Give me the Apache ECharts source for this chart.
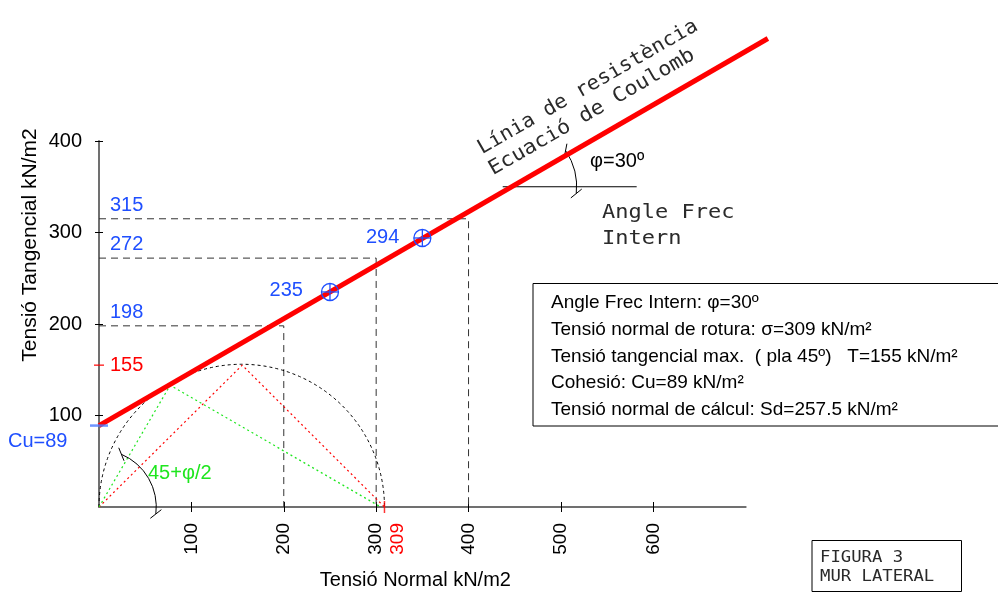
<!DOCTYPE html>
<html><head><meta charset="utf-8">
<script src="https://cdn.jsdelivr.net/npm/echarts@6/dist/echarts.min.js"></script>
<style>html,body{margin:0;padding:0;background:#fff}#c{width:998px;height:595px}</style>
</head><body><div id="c"></div>
<script>
// ---------- data ----------
const xTicks = [100, 200, 300, 400, 500, 600];
const yTicks = [100, 200, 300, 400];
const coulombLine = [[0, 89], [724, 512]];
const refLevels = [315, 272, 198];
const refX = [400, 300, 200];
const testPointsX = [250, 350];
const testPointsY = [235, 294];
const testLabels = ['235', '294'];
const mohrCenter = 154.5;
const mohrRadius = 154.5;
const maxShearTri = [[0, 0], [155, 155], [309, 0]];
const planeTri = [[0, 0], [77, 133], [305, 0]];
const cohesion = 89;
const maxShear = 155;
const ruptureStress = 309;
const phiRefLine = [[437, 350], [582, 350]];
const infoLines = [
  'Angle Frec Intern: φ=30º',
  'Tensió normal de rotura: σ=309 kN/m²',
  'Tensió tangencial max.  ( pla 45º)   T=155 kN/m²',
  'Cohesió: Cu=89 kN/m²',
  'Tensió normal de cálcul: Sd=257.5 kN/m²'
];

// ---------- styles ----------
const FONT = '"Liberation Sans", Arial, sans-serif';
const CAD = '"DejaVu Sans Mono", monospace';
const BLUE = '#1f4fff', RED = '#ff0000', GREEN = '#1ee61e';
const AXIS = '#707070';
const CADCOLOR = '#2a2a2a';

const chart = echarts.init(document.getElementById('c'));

// angle annotations: [cx, cy, r(data), startDeg, endDeg]
const angleArcs = [[447, 350, 70, 34, -6], [0, 0, 62, 67, -7]];
const testLabelGap = [27, 23];

const refSeries = refLevels.map((v, i) => ({
  type: 'line', data: [[0, v], [refX[i], v], [refX[i], 0]], symbol: 'none',
  lineStyle: { color: '#333', width: 1, type: [7, 5] }, silent: true, z: 2, animation: false
}));

const option = {
  animation: false,
  grid: { left: 99, right: 252.3, top: 141, bottom: 84, containLabel: false },
  xAxis: [{
    type: 'value', min: 0, max: 700,
    axisLine: { show: true, onZero: false, lineStyle: { color: AXIS, width: 2 } },
    axisTick: { show: true, length: 5, customValues: xTicks, lineStyle: { color: '#000', width: 1 } },
    axisLabel: { customValues: xTicks, rotate: 90, margin: 16, fontSize: 19, fontFamily: FONT, color: '#000' },
    splitLine: { show: false },
    name: 'Tensió Normal kN/m2', nameLocation: 'middle', nameGap: 63,
    nameTextStyle: { fontSize: 20, fontFamily: FONT, color: '#000', padding: [0, 14, 0, 0] }
  }, {
    type: 'value', min: 0, max: 700, position: 'bottom',
    axisLine: { show: false }, axisLabel: { show: false }, splitLine: { show: false },
    axisTick: { show: true, inside: true, length: 5, customValues: xTicks, lineStyle: { color: '#000', width: 1 } }
  }],
  yAxis: [{
    type: 'value', min: 0, max: 400,
    axisLine: { show: true, onZero: false, lineStyle: { color: AXIS, width: 2 } },
    axisTick: { show: true, length: 4, customValues: yTicks, lineStyle: { color: '#000', width: 1 } },
    axisLabel: { customValues: yTicks, margin: 17, fontSize: 20, fontFamily: FONT, color: '#000' },
    splitLine: { show: false }
  }, {
    type: 'value', min: 0, max: 400, position: 'left',
    axisLine: { show: false }, axisLabel: { show: false }, splitLine: { show: false },
    axisTick: { show: true, inside: true, length: 4, customValues: yTicks, lineStyle: { color: '#000', width: 1 } }
  }],
  series: [
    ...refSeries,
    {
      type: 'custom', silent: true, clip: false, z: 3,
      data: [[mohrCenter, 0, mohrRadius]],
      renderItem: (p, api) => {
        const c = api.coord([api.value(0), api.value(1)]);
        const r = api.size([api.value(2), 0])[0];
        return { type: 'arc', shape: { cx: c[0], cy: c[1], r, startAngle: Math.PI, endAngle: 2 * Math.PI, clockwise: true },
          style: { stroke: '#000', fill: 'none', lineWidth: 1, lineDash: [3, 3] } };
      }
    },
    { type: 'line', data: maxShearTri, symbol: 'none', silent: true, z: 3,
      lineStyle: { color: RED, width: 1.2, type: [2, 3] } },
    { type: 'line', data: planeTri, symbol: 'none', silent: true, z: 3,
      lineStyle: { color: GREEN, width: 1.2, type: [2, 3] } },
    { type: 'line', data: phiRefLine, symbol: 'none', silent: true, z: 3,
      lineStyle: { color: '#000', width: 1 } },
    {
      type: 'custom', silent: true, clip: false, z: 4,
      data: angleArcs,
      renderItem: (p, api) => {
        const c = api.coord([api.value(0), api.value(1)]);
        const r = api.size([api.value(2), 0])[0];
        const a1 = api.value(3) * Math.PI / 180, a2 = api.value(4) * Math.PI / 180;
        const ch = [{ type: 'arc', shape: { cx: c[0], cy: c[1], r, startAngle: -a1, endAngle: -a2, clockwise: true },
          style: { stroke: '#000', fill: 'none', lineWidth: 1 } }];
        [a1, a2].forEach(a => {
          const px = c[0] + r * Math.cos(a), py = c[1] - r * Math.sin(a);
          const d = a + Math.PI / 4;
          const dx = Math.cos(d) * 7, dy = -Math.sin(d) * 7;
          ch.push({ type: 'line', shape: { x1: px - dx, y1: py - dy, x2: px + dx, y2: py + dy }, style: { stroke: '#000', lineWidth: 1 } });
        });
        return { type: 'group', children: ch };
      }
    },
    {
      // Coulomb failure line (drawn beyond the axis extent, unclipped)
      type: 'custom', silent: true, clip: false, z: 6,
      data: [[coulombLine[0][0], coulombLine[0][1], coulombLine[1][0], coulombLine[1][1]]],
      renderItem: (p, api) => {
        const a = api.coord([api.value(0), api.value(1)]);
        const b = api.coord([api.value(2), api.value(3)]);
        return { type: 'line', shape: { x1: a[0], y1: a[1], x2: b[0], y2: b[1] },
          style: { stroke: RED, lineWidth: 5, lineCap: 'butt' } };
      }
    },
    {
      type: 'custom', silent: true, clip: false, z: 7,
      data: testPointsX.map((x, i) => [x, testPointsY[i]]),
      renderItem: (p, api) => {
        const c = api.coord([api.value(0), api.value(1)]);
        const r = 8.5;
        const st = { stroke: BLUE, lineWidth: 1.3, fill: 'none' };
        return { type: 'group', children: [
          { type: 'circle', shape: { cx: c[0], cy: c[1], r }, style: st },
          { type: 'line', shape: { x1: c[0] - r, y1: c[1], x2: c[0] + r, y2: c[1] }, style: st },
          { type: 'line', shape: { x1: c[0], y1: c[1] - r, x2: c[0], y2: c[1] + r }, style: st }
        ] };
      }
    },
    {
      type: 'scatter', symbol: 'rect', silent: true, clip: false, z: 8,
      data: [
        { value: [0, maxShear], symbolSize: [10, 1.5], itemStyle: { color: RED } },
        { value: [0, cohesion], symbolSize: [18, 2.5], itemStyle: { color: '#4a7bff' } },
        { value: [ruptureStress, 0], symbolSize: [1.5, 12], itemStyle: { color: RED } }
      ]
    }
  ]
};
chart.setOption(option);

const px = (x, y) => chart.convertToPixel({ gridIndex: 0 }, [x, y]);
const T = (text, x, y, o = {}) => ({
  type: 'text', x, y, rotation: o.rotation || 0, scaleX: o.scaleX || 1, z: 100, silent: true,
  style: { text, fontSize: o.size || 20, fontFamily: o.family || FONT, fill: o.color || '#000',
    align: o.align || 'left', verticalAlign: o.va || 'middle' }
});

const g = [];
refLevels.forEach(v => { const p = px(0, v); g.push(T(String(v), p[0] + 11, p[1] - 13.6, { color: BLUE })); });
{ const p = px(0, maxShear); g.push(T(String(maxShear), p[0] + 11, p[1], { color: RED })); }
{ const p = px(0, cohesion); g.push(T('Cu=' + cohesion, p[0] - 91, p[1] + 16, { color: BLUE })); }
testPointsX.forEach((x, i) => { const p = px(x, testPointsY[i]); g.push(T(testLabels[i], p[0] - testLabelGap[i], p[1] - 1, { color: BLUE, align: 'right' })); });
{ const p = px(ruptureStress, 0); g.push(T(String(ruptureStress), p[0] + 13, p[1] + 16, { color: RED, size: 19, rotation: Math.PI / 2, align: 'right' })); }
g.push(T('45+φ/2', 148, 473, { color: GREEN }));
g.push(T('φ=30º', 590, 161, { size: 20 }));
g.push(T('Angle Frec', 602, 223, { family: CAD, size: 20, scaleX: 1.1, va: 'bottom', color: CADCOLOR }));
g.push(T('Intern', 602, 249, { family: CAD, size: 20, scaleX: 1.1, va: 'bottom', color: CADCOLOR }));
g.push(T('Línia de resistència', 484.5, 158.5, { family: CAD, size: 20, scaleX: 1.04, rotation: Math.PI / 6, va: 'bottom', color: CADCOLOR }));
g.push(T('Ecuació de Coulomb', 495.5, 179.5, { family: CAD, size: 20, scaleX: 1.08, rotation: Math.PI / 6, va: 'bottom', color: CADCOLOR }));
g.push(T('Tensió Tangencial kN/m2', 30, 245, { size: 21, rotation: Math.PI / 2, align: 'center' }));
// info box
g.push({ type: 'rect', z: 99, silent: true, shape: { x: 533, y: 283.5, width: 470, height: 142.5 }, style: { fill: '#fff', stroke: '#000', lineWidth: 1 } });
infoLines.forEach((s, i) => g.push(T(s, 551, 303 + i * 26.75, { size: 19 })));
// figure box
g.push({ type: 'rect', z: 99, silent: true, shape: { x: 812, y: 540.5, width: 149.5, height: 51 }, style: { fill: '#fff', stroke: '#000', lineWidth: 1 } });
g.push(T('FIGURA 3', 820, 566, { family: CAD, size: 15, scaleX: 1.15, va: 'bottom', color: CADCOLOR }));
g.push(T('MUR LATERAL', 820, 585, { family: CAD, size: 15, scaleX: 1.15, va: 'bottom', color: CADCOLOR }));

chart.setOption({ graphic: g });
</script>
</body></html>
